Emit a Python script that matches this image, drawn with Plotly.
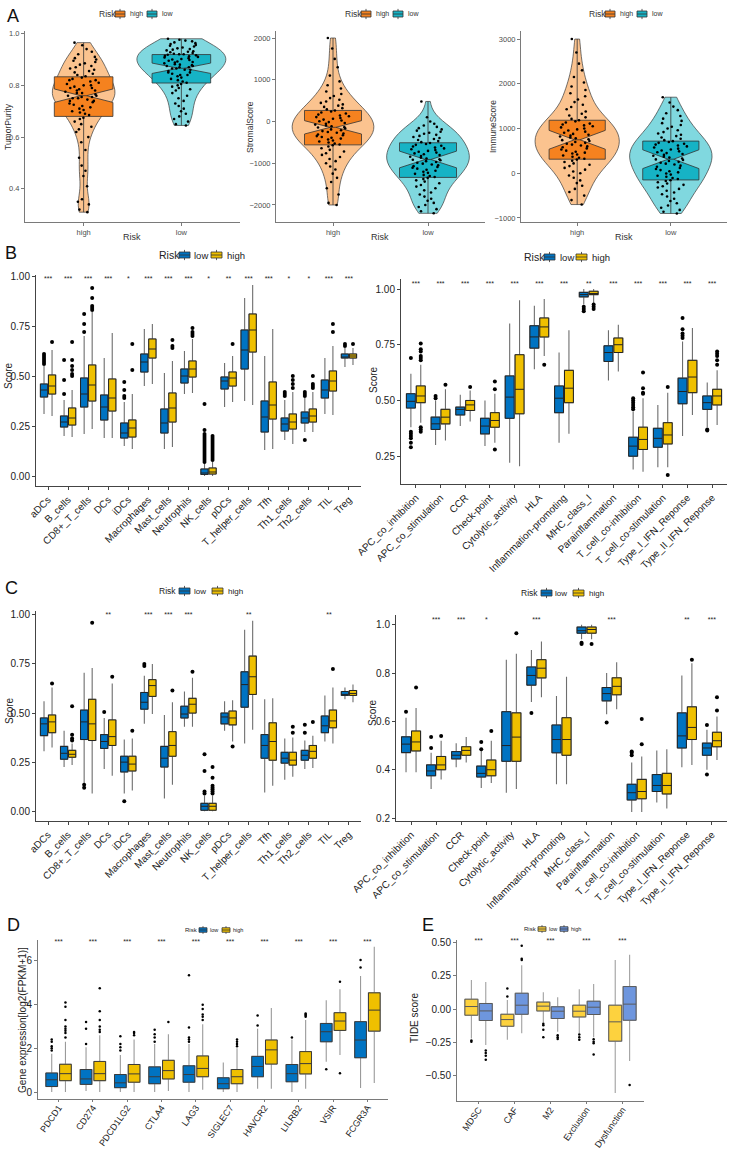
import plotly.graph_objects as go

W, H = 731, 1149
FONT = "Liberation Sans, Arial, sans-serif"

tp_high = [0.31, 0.32, 0.34, 0.35, 0.36, 0.41, 0.45, 0.47, 0.49, 0.52, 0.55, 0.58,
           0.60, 0.62, 0.63, 0.64, 0.65, 0.66, 0.67, 0.675,
           0.685, 0.69, 0.695, 0.70, 0.705, 0.71, 0.715, 0.72, 0.725, 0.73, 0.735, 0.74,
           0.74, 0.745, 0.75, 0.75, 0.755, 0.755, 0.76, 0.76,
           0.765, 0.77, 0.77, 0.775, 0.78, 0.78, 0.785, 0.79, 0.79, 0.795, 0.80, 0.80,
           0.805, 0.81, 0.815, 0.82, 0.82, 0.825, 0.83, 0.835,
           0.84, 0.845, 0.85, 0.855, 0.86, 0.865, 0.87, 0.875, 0.88, 0.885, 0.89, 0.895,
           0.90, 0.905, 0.91, 0.92, 0.93, 0.94, 0.955, 0.965]
tp_low = [0.645, 0.65, 0.66, 0.67, 0.68, 0.69, 0.70, 0.71, 0.72, 0.73, 0.74, 0.75, 0.76,
          0.77, 0.78, 0.785, 0.79, 0.795, 0.80, 0.805,
          0.81, 0.815, 0.82, 0.825, 0.83, 0.835, 0.84, 0.84, 0.845, 0.85, 0.85, 0.855,
          0.86, 0.86, 0.865, 0.865, 0.87, 0.87, 0.875, 0.875,
          0.878, 0.88, 0.882, 0.885, 0.888, 0.89, 0.892, 0.895, 0.898, 0.90, 0.902, 0.905,
          0.908, 0.91, 0.912, 0.914, 0.916, 0.918, 0.92, 0.92,
          0.922, 0.925, 0.928, 0.93, 0.932, 0.935, 0.938, 0.94, 0.943, 0.946, 0.95, 0.953,
          0.956, 0.96, 0.963, 0.966, 0.97, 0.973, 0.976, 0.98]
stromal_high = [-2000, -1950, -1750, -1600, -1450, -1350, -1250, -1150, -1080, -1000, -950,
                -900, -850, -800, -760, -720, -680, -640, -600, -570,
                -550, -530, -505, -480, -455, -430, -410, -390, -370, -350, -330, -310,
                -290, -270, -250, -230, -210, -190, -165, -145,
                -135, -115, -95, -75, -55, -35, -15, 5, 25, 45, 65, 85, 105, 125, 145, 165,
                190, 215, 240, 265,
                290, 320, 350, 380, 410, 445, 480, 520, 560, 610, 660, 720, 790, 870, 960,
                1100, 1300, 1500, 1750, 2000]
stromal_low = [-2200, -2150, -2100, -2050, -2000, -1950, -1900, -1850, -1800, -1750, -1700,
               -1650, -1600, -1560, -1520, -1480, -1440, -1410, -1380, -1350,
               -1330, -1305, -1280, -1255, -1230, -1205, -1180, -1155, -1130, -1110, -1090,
               -1070, -1050, -1030, -1010, -990, -970, -950, -930, -915,
               -905, -885, -865, -845, -825, -805, -785, -765, -745, -725, -705, -685, -665,
               -645, -625, -600, -580, -560, -540, -515,
               -495, -470, -445, -420, -395, -370, -345, -320, -295, -270, -245, -220, -190,
               -160, -130, -95, -55, 0, 100, 480]
immune_high = [-700, -600, -500, -420, -350, -280, -220, -160, -100, -50, 0, 40, 80, 120,
               160, 190, 220, 250, 280, 305,
               325, 345, 370, 395, 420, 440, 460, 480, 505, 530, 555, 580, 600, 620, 640,
               660, 680, 700, 720, 740,
               760, 780, 800, 820, 840, 860, 880, 905, 930, 955, 980, 1000, 1025, 1050, 1070,
               1090, 1110, 1135, 1160, 1185,
               1215, 1250, 1290, 1330, 1380, 1430, 1480, 1530, 1590, 1650, 1720, 1790, 1860,
               1940, 2030, 2150, 2300, 2450, 2700, 3000]
immune_low = [-900, -860, -820, -770, -720, -670, -620, -570, -520, -470, -430, -390, -350,
              -320, -290, -260, -230, -200, -175, -155,
              -130, -105, -80, -55, -30, -5, 20, 45, 70, 95, 120, 145, 170, 195, 215, 235,
              255, 275, 295, 310,
              330, 350, 370, 390, 410, 430, 450, 470, 490, 510, 530, 550, 575, 600, 620, 640,
              660, 680, 700, 718,
              740, 770, 800, 830, 860, 890, 920, 960, 1000, 1040, 1080, 1120, 1170, 1220,
              1280, 1340, 1410, 1490, 1580, 1700]

# box stats: lower whisker, q1, median, q3, upper whisker, notch half-span
tp_high_box = [0.31, 0.68, 0.76, 0.833, 0.965, 0.026]
tp_low_box = [0.645, 0.809, 0.866, 0.919, 0.98, 0.02]
stromal_high_box = [-2000, -560, -140, 265, 2000, 160]
stromal_low_box = [-2200, -1340, -910, -510, 480, 200]
immune_high_box = [-700, 314, 748, 1185, 3000, 210]
immune_low_box = [-900, -150, 314, 719, 1700, 210]

# ---------------- panels B / C: immune cells & functions ----------------
cells = ["aDCs", "B_cells", "CD8+_T_cells", "DCs", "iDCs", "Macrophages", "Mast_cells",
         "Neutrophils", "NK_cells", "pDCs", "T_helper_cells", "Tfh", "Th1_cells",
         "Th2_cells", "TIL", "Treg"]
functions = ["APC_co_inhibition", "APC_co_stimulation", "CCR", "Check-point",
             "Cytolytic_activity", "HLA", "Inflammation-promoting", "MHC_class_I",
             "Parainflammation", "T_cell_co-inhibition", "T_cell_co-stimulation",
             "Type_I_IFN_Reponse", "Type_II_IFN_Reponse"]

# rows: lower whisker, q1, median, q3, upper whisker
bl_low = [(.31, .395, .43, .46, .55), (.20, .245, .27, .30, .38), (.21, .345, .41, .49, .70),
          (.19, .28, .345, .405, .59), (.15, .19, .215, .265, .37), (.45, .52, .57, .61, .735),
          (.135, .215, .265, .335, .515), (.41, .465, .50, .535, .625), (0, .008, .015, .035, .065),
          (.345, .435, .475, .495, .565), (.375, .535, .63, .73, .89), (.13, .22, .295, .375, .60),
          (.18, .225, .26, .29, .38), (.22, .265, .29, .32, .39), (.31, .39, .43, .48, .59),
          (.545, .59, .595, .61, .64)]
bl_low_out = [[.56, .57, .58, .59, .60, .61], [.41, .48, .58], [.72, .76, .81], [],
              [.39, .40, .43, .47], [], [], [],
              [.07, .08, .09, .10, .11, .12, .13, .14, .15, .16, .17, .18, .19, .20, .21, .23, .36],
              [], [], [], [.40, .41, .42], [.18, .40, .41, .42], [], [.65, .66]]
bl_high = [(.30, .41, .45, .505, .63), (.195, .255, .29, .34, .43), (.235, .375, .455, .555, .82),
           (.19, .325, .39, .485, .715), (.135, .195, .24, .28, .41), (.46, .59, .635, .685, .76),
           (.145, .27, .34, .415, .575), (.415, .495, .535, .575, .685), (0, .01, .02, .04, .07),
           (.37, .45, .49, .52, .60), (.355, .62, .73, .81, .955), (.135, .285, .355, .47, .735),
           (.16, .235, .27, .31, .42), (.22, .27, .30, .335, .42), (.305, .425, .475, .525, .65),
           (.555, .59, .60, .61, .64)]
bl_high_out = [[.67], [.50, .51, .53, .55, .58, .67], [.83, .84, .85, .89, .94], [], [.53, .66],
               [], [.64, .65, .68], [.70, .71, .72, .74],
               [.08, .09, .10, .11, .12, .13, .14, .15, .16, .17, .18, .19, .20],
               [.66], [], [], [.44, .46, .48, .50], [.44, .45, .46, .50], [.72, .76], [.66]]
bl_sig = ["***", "***", "***", "***", "*", "***", "***", "***", "*", "**", "***", "***",
          "*", "*", "***", "***"]

br_low = [(.38, .466, .496, .53, .62), (.30, .37, .395, .425, .50), (.385, .435, .46, .47, .525),
          (.295, .35, .385, .42, .50), (.22, .42, .515, .61, .845), (.64, .735, .785, .835, .925),
          (.31, .445, .51, .565, .715), (.93, .965, .975, .985, 1.0), (.59, .675, .715, .745, .815),
          (.19, .25, .295, .335, .45), (.20, .29, .33, .375, .48), (.34, .485, .54, .60, .765),
          (.38, .46, .49, .52, .58)]
br_low_out = [[.29, .31, .33, .34, .35, .36, .69], [.51, .52], [], [], [], [], [],
              [.90, .91, .92], [], [.46, .47, .48, .49, .50, .51], [],
              [.78, .79, .80, .82, .87], [.365, .37]]
br_high = [(.40, .49, .52, .565, .66), (.32, .395, .425, .46, .55), (.405, .455, .48, .50, .545),
           (.31, .38, .41, .445, .53), (.205, .44, .55, .705, .95), (.70, .785, .83, .87, .955),
           (.35, .49, .555, .635, .815), (.935, .975, .98, .99, 1.0), (.63, .715, .75, .78, .84),
           (.18, .28, .325, .38, .51), (.20, .305, .345, .40, .535), (.435, .535, .605, .68, .825),
           (.39, .48, .52, .55, .635)]
br_high_out = [[.36, .37, .38, .68, .69, .70, .72, .73, .755], [.57], [.56], [.28, .55, .585],
               [], [.66], [], [.91, .92, .93], [], [.53, .535, .555, .625], [.165, .56], [],
               [.66, .68, .70, .71, .72]]
br_sig = ["***", "***", "***", "***", "***", "***", "***", "**", "***", "***", "***", "***", "***"]

cl_low = [(.305, .385, .445, .475, .56), (.225, .265, .295, .33, .41), (.14, .365, .455, .515, .705),
          (.215, .32, .355, .39, .475), (.09, .20, .25, .28, .365), (.445, .52, .555, .605, .69),
          (.065, .225, .27, .33, .49), (.43, .475, .495, .535, .61), (0, .005, .025, .04, .08),
          (.41, .445, .48, .50, .56), (.345, .53, .645, .71, .925), (.095, .27, .335, .39, .57),
          (.16, .245, .27, .30, .37), (.215, .26, .285, .31, .36), (.355, .40, .435, .485, .59),
          (.57, .59, .595, .61, .63)]
cl_low_out = [[], [], [.12, .135], [.505], [.05], [.74, .75], [], [], [.09, .10, .205, .29],
              [], [], [], [], [.40, .44], [], []]
cl_high = [(.325, .40, .455, .49, .63), (.235, .275, .29, .31, .345), (.09, .36, .445, .57, .73),
           (.18, .335, .38, .465, .65), (.105, .205, .24, .28, .37), (.495, .585, .64, .67, .75),
           (.135, .28, .335, .405, .555), (.43, .50, .545, .575, .68), (0, .005, .025, .04, .08),
           (.355, .44, .475, .51, .565), (.415, .595, .685, .79, .97), (.13, .26, .355, .45, .575),
           (.175, .235, .26, .30, .375), (.22, .27, .305, .335, .385), (.345, .425, .46, .515, .63),
           (.555, .59, .60, .615, .645)]
cl_high_out = [[.65], [.36, .37, .39, .535], [.96], [.685], [.41], [], [.615], [.71],
               [.09, .10, .11, .12, .13, .17, .225], [.33], [], [], [.40, .43], [.455], [.725], []]
cl_sig = ["", "", "", "**", "", "***", "***", "***", "", "", "**", "", "", "", "**", ""]

cr_low = [(.39, .471, .506, .536, .615), (.32, .375, .395, .42, .47), (.41, .445, .46, .475, .51),
          (.325, .37, .385, .415, .48), (.305, .435, .50, .64, .855), (.68, .75, .79, .825, .895),
          (.34, .47, .525, .585, .705), (.94, .965, .975, .99, 1.0), (.63, .685, .715, .74, .80),
          (.225, .275, .305, .34, .43), (.265, .31, .335, .38, .48), (.41, .49, .54, .635, .79),
          (.40, .46, .49, .51, .565)]
cr_low_out = [[.64], [.49, .535], [], [.485, .515], [], [.635], [], [.92, .925], [.595],
              [.46, .47, .475], [], [], [.38, .585]]
cr_high = [(.39, .478, .515, .56, .655), (.36, .40, .42, .455, .52), (.43, .46, .48, .495, .535),
           (.345, .375, .40, .44, .52), (.32, .435, .535, .635, .88), (.70, .78, .82, .855, .93),
           (.34, .46, .525, .615, .785), (.94, .965, .98, .99, 1.0), (.65, .71, .745, .78, .845),
           (.225, .28, .31, .36, .455), (.24, .30, .335, .385, .485), (.42, .525, .575, .66, .84),
           (.44, .495, .52, .555, .62)]
cr_high_out = [[.74], [.54], [], [.56], [.965], [], [], [.92], [], [.505, .61], [], [.855],
               [.645, .70]]
cr_sig = ["", "***", "***", "*", "", "***", "", "", "***", "", "", "**", "***"]

# ---------------- panel D: checkpoint genes ----------------
genes = ["PDCD1", "CD274", "PDCD1LG2", "CTLA4", "LAG3", "SIGLEC7", "HAVCR2", "LILRB2",
         "VSIR", "FCGR3A"]
d_low = [(0, .25, .56, .87, 1.75), (.05, .35, .6, 1.03, 2.05), (0, .2, .42, .8, 1.7),
         (0, .38, .7, 1.15, 2.2), (0, .45, .8, 1.2, 2.2), (0, .15, .38, .65, 1.35),
         (.15, .7, 1.17, 1.63, 2.9), (0, .47, .84, 1.26, 2.4), (1.39, 2.3, 2.76, 3.14, 4.2),
         (.18, 1.57, 2.38, 3.22, 5.31)]
d_low_out = [[1.9, 2.0, 2.1, 2.3, 2.4], [2.2, 2.9, 3.2], [1.9, 2.05, 2.2, 2.55],
             [2.3, 2.5, 2.65, 2.85], [2.3, 2.4, 2.5, 2.95, 5.35], [], [3.05, 3.5], [2.5],
             [1.04], [5.7, 6.04]]
d_high = [(0, .52, .84, 1.27, 2.3), (0, .52, .84, 1.4, 2.6), (0, .45, .83, 1.26, 2.4),
          (.05, .6, .98, 1.45, 2.65), (.1, .7, 1.08, 1.65, 3.1), (0, .38, .7, 1.03, 2.0),
          (.15, 1.28, 1.93, 2.38, 3.85), (.15, .83, 1.3, 1.85, 3.3), (1.69, 2.82, 3.25, 3.63, 4.71),
          (.41, 2.79, 3.75, 4.54, 6.65)]
d_high_out = [[2.5, 2.7, 2.8, 2.9, 3.0, 3.3, 3.9, 4.1], [2.75, 2.85, 3.0, 3.3, 3.7, 4.75],
              [2.6, 2.7, 2.75], [3.2], [3.3, 3.45, 3.55, 3.8, 4.0], [2.1, 2.2, 2.3, 2.4], [],
              [3.45, 3.5, 3.55, 3.6], [.86, 5.05], []]
d_sig = ["***"] * 10

# ---------------- panel E: TIDE ----------------
tide = ["MDSC", "CAF", "M2", "Exclusion", "Dysfunction"]
e_low = [(-.22, -.045, .02, .075, .22), (-.23, -.128, -.078, -.038, .07),
         (-.10, -.013, .023, .053, .128), (-.18, -.058, -.015, .03, .15),
         (-.63, -.24, -.095, .03, .37)]
e_low_out = [[-.235, -.245], [.095, .155], [-.11, -.12, -.155, -.21], [-.19, -.21, -.23], []]
e_high = [(-.27, -.085, -.013, .043, .205), (-.18, -.038, .03, .12, .33),
          (-.17, -.07, -.015, .018, .09), (-.21, -.04, .015, .06, .19),
          (-.39, -.083, .038, .17, .41)]
e_high_out = [[-.31, -.33, -.35, -.38], [.37, .38, .477], [-.196, -.21, -.224],
              [-.226, -.244, -.256, -.34], [-.57]]
e_sig = ["***"] * 5

HIGH_BOX, HIGH_VIO = "#F5821F", "#FBC38F"
LOW_BOX, LOW_VIO = "#16B3C5", "#80D8DF"
JCO_BLUE, JCO_YEL = "#0073C2", "#EFC000"
E_YEL, E_BLUE = "#FDD23E", "#6E96DE"

fig = go.Figure()


def ids(n):
    s = "" if n == 1 else str(n)
    return "x" + s, "y" + s, "xaxis" + s, "yaxis" + s


def violin_panel(n, groups, bw, sig_y):
    xa, ya, _, _ = ids(n)
    for name, samples, stats, vw, vcol, bcol in groups:
        fig.add_trace(go.Violin(x=[name] * len(samples), y=samples, xaxis=xa, yaxis=ya,
                                width=vw, bandwidth=bw, spanmode="hard", scalemode="width",
                                points=False, fillcolor=vcol, opacity=1,
                                line=dict(color="#3a3a3a", width=0.7), hoverinfo="skip"))
    for name, samples, stats, vw, vcol, bcol in groups:
        lo, q1, med, q3, hi, notch = stats
        fig.add_trace(go.Box(x=[name], q1=[q1], median=[med], q3=[q3], lowerfence=[lo],
                             upperfence=[hi], notchspan=[notch], notched=True, notchwidth=0.45,
                             width=0.6, fillcolor=bcol, line=dict(color="#333333", width=0.8),
                             whiskerwidth=0, boxpoints=False, name=name, xaxis=xa, yaxis=ya))
    for name, samples, stats, vw, vcol, bcol in groups:
        fig.add_trace(go.Box(x=[name] * len(samples), y=samples, boxpoints="all", jitter=1,
                             pointpos=0, width=0.38, fillcolor="rgba(0,0,0,0)",
                             line=dict(width=0, color="rgba(0,0,0,0)"), whiskerwidth=0,
                             marker=dict(color="black", size=2.6),
                             hoverinfo="skip", xaxis=xa, yaxis=ya))
    fig.add_trace(go.Scatter(x=[0.5], y=[sig_y], mode="text", text=["***"],
                             textfont=dict(size=7, color="#333333"),
                             cliponaxis=False, hoverinfo="skip", xaxis=xa, yaxis=ya))


def group_panel(n, cats, groups, box_w, pt_size, whisk_col, sig, sig_y, sig_size, edge_col=None):
    xa, ya, _, _ = ids(n)
    for name, stats, outs, color, off in groups:
        xs = [i + off for i in range(len(cats))]
        lo, q1, med, q3, hi = zip(*stats)
        # whiskers (grey) first, then the box itself on top with its own outline
        fig.add_trace(go.Box(x=xs, q1=list(q1), median=list(med), q3=list(q3),
                             lowerfence=list(lo), upperfence=list(hi), width=box_w,
                             fillcolor=color, line=dict(color=whisk_col, width=1.1),
                             whiskerwidth=0, boxpoints=False, hoverinfo="skip",
                             xaxis=xa, yaxis=ya))
        fig.add_trace(go.Box(x=xs, q1=list(q1), median=list(med), q3=list(q3),
                             lowerfence=list(q1), upperfence=list(q3), width=box_w,
                             fillcolor=color, line=dict(color=edge_col or "#222222", width=1),
                             whiskerwidth=0, boxpoints=False, name=name,
                             xaxis=xa, yaxis=ya))
    for name, stats, outs, color, off in groups:
        ox = [i + off for i, vals in enumerate(outs) for v in vals]
        oy = [v for vals in outs for v in vals]
        fig.add_trace(go.Scatter(x=ox, y=oy, mode="markers",
                                 marker=dict(color="black", size=pt_size, line=dict(width=0)),
                                 hoverinfo="skip", xaxis=xa, yaxis=ya))
    fig.add_trace(go.Scatter(x=list(range(len(cats))), y=[sig_y] * len(cats), mode="text",
                             text=sig, textfont=dict(size=sig_size, color="#222222"),
                             cliponaxis=False, hoverinfo="skip", xaxis=xa, yaxis=ya))


violin_panel(1, [("high", tp_high, tp_high_box, 0.64, HIGH_VIO, HIGH_BOX),
                 ("low", tp_low, tp_low_box, 0.91, LOW_VIO, LOW_BOX)], 0.04, 1.0)
violin_panel(2, [("high", stromal_high, stromal_high_box, 0.86, HIGH_VIO, HIGH_BOX),
                 ("low", stromal_low, stromal_low_box, 0.87, LOW_VIO, LOW_BOX)], 230, 2070)
violin_panel(3, [("high", immune_high, immune_high_box, 0.9, HIGH_VIO, HIGH_BOX),
                 ("low", immune_low, immune_low_box, 0.88, LOW_VIO, LOW_BOX)], 240, 3090)

group_panel(4, cells, [("low", bl_low, bl_low_out, JCO_BLUE, -0.2),
                       ("high", bl_high, bl_high_out, JCO_YEL, 0.2)],
            0.36, 4, "#6e6e6e", bl_sig, 0.982, 7)
group_panel(5, functions, [("low", br_low, br_low_out, JCO_BLUE, -0.2),
                           ("high", br_high, br_high_out, JCO_YEL, 0.2)],
            0.36, 4, "#6e6e6e", br_sig, 1.02, 7)
group_panel(6, cells, [("low", cl_low, cl_low_out, JCO_BLUE, -0.2),
                       ("high", cl_high, cl_high_out, JCO_YEL, 0.2)],
            0.36, 4, "#6e6e6e", cl_sig, 1.0, 7)
group_panel(7, functions, [("low", cr_low, cr_low_out, JCO_BLUE, -0.2),
                           ("high", cr_high, cr_high_out, JCO_YEL, 0.2)],
            0.36, 4, "#6e6e6e", cr_sig, 1.02, 7)
group_panel(8, genes, [("low", d_low, d_low_out, JCO_BLUE, -0.2),
                       ("high", d_high, d_high_out, JCO_YEL, 0.2)],
            0.34, 2.5, "#9a9a9a", d_sig, 6.86, 7, "#3a3a3a")
group_panel(9, tide, [("low", e_low, e_low_out, E_YEL, -0.2),
                      ("high", e_high, e_high_out, E_BLUE, 0.2)],
            0.36, 2.5, "#a0a0a0", e_sig, 0.51, 7, "#5a5a5a")

# ---------------- layout ----------------
# panel rectangles in pixels: left, right, top, bottom
rects = {1: (25, 240, 31, 222), 2: (276, 485, 31, 222), 3: (521, 727, 31, 222),
         4: (36, 361, 275, 486), 5: (401, 727, 279, 484),
         6: (36, 361, 611, 821), 7: (396, 727, 615, 821),
         8: (38, 388, 940, 1099), 9: (457, 644, 940, 1101)}
yranges = {1: [0.272, 1.01], 2: [-2408, 2168], 3: [-1090, 3180],
           4: [-0.05, 1.005], 5: [0.125, 1.045], 6: [-0.05, 1.02], 7: [0.188, 1.04],
           8: [-0.32, 6.96], 9: [-0.69, 0.52]}
yticks = {1: ([0.4, 0.6, 0.8, 1.0], ".1f"), 2: ([-2000, -1000, 0, 1000, 2000], "d"),
          3: ([-1000, 0, 1000, 2000, 3000], "d"),
          4: ([0, 0.25, 0.5, 0.75, 1.0], ".2f"), 5: ([0.25, 0.5, 0.75, 1.0], ".2f"),
          6: ([0, 0.25, 0.5, 0.75, 1.0], ".2f"), 7: ([0.2, 0.4, 0.6, 0.8, 1.0], ".1f"),
          8: ([0, 2, 4, 6], "d"), 9: ([-0.5, -0.25, 0, 0.25, 0.5], ".2f")}
xcats = {4: cells, 5: functions, 6: cells, 7: functions, 8: genes, 9: tide}

lay = dict(template="none", width=W, height=H, margin=dict(l=0, r=0, t=0, b=0),
           plot_bgcolor="white", paper_bgcolor="white", showlegend=False,
           font=dict(family=FONT, color="#222222"), boxmode="overlay", violinmode="overlay")

for n, (l, r, t, b) in rects.items():
    xa, ya, xk, yk = ids(n)
    small = n <= 3
    tcol = "#4d4d4d" if small else "#222222"
    lcol = "#7a7a7a" if (small or n >= 8) else "#444444"
    tsize = 7.5 if small else 10
    xax = dict(domain=[l / W, r / W], anchor=ya, showline=True, linecolor=lcol, linewidth=1,
               ticks="outside", ticklen=3, tickcolor=lcol, showgrid=False, zeroline=False,
               automargin=False, tickfont=dict(size=tsize, color=tcol))
    if small:
        xax.update(type="category", range=[-0.6, 1.6])
    else:
        cats = xcats[n]
        xax.update(range=[-0.6, len(cats) - 0.4], tickvals=list(range(len(cats))),
                   ticktext=cats, tickangle=-45 if n <= 7 else -55)
        if n >= 8:
            xax.update(tickfont=dict(size=9, color=tcol), ticklen=2, ticklabelstandoff=-3)
    tv, fmt = yticks[n]
    yax = dict(domain=[1 - b / H, 1 - t / H], anchor=xa, range=yranges[n], tickvals=tv,
               tickformat=fmt, showline=True, linecolor=lcol, linewidth=1, ticks="outside",
               ticklen=3, tickcolor=lcol, showgrid=False, zeroline=False, automargin=False,
               tickfont=dict(size=tsize, color=tcol))
    lay[xk] = xax
    lay[yk] = yax

ann = []
shapes = []


def label(text, x, y, size, angle=0, color="#222222", xanchor="center"):
    ann.append(dict(text=text, x=x / W, y=1 - y / H, xref="paper", yref="paper",
                    showarrow=False, textangle=angle, font=dict(size=size, color=color),
                    xanchor=xanchor, yanchor="middle"))


def key(x0, yc, kw, kh, fill):
    # ggplot-style boxplot key: box, median line, short whisker stubs
    px = lambda v: v / W
    py = lambda v: 1 - v / H
    xm = x0 + kw / 2
    st = kh * 0.35
    line = dict(color="#333333", width=0.8)
    shapes.append(dict(type="line", xref="paper", yref="paper", x0=px(xm), x1=px(xm),
                       y0=py(yc - kh / 2 - st), y1=py(yc + kh / 2 + st), line=line))
    shapes.append(dict(type="rect", xref="paper", yref="paper", x0=px(x0), x1=px(x0 + kw),
                       y0=py(yc - kh / 2), y1=py(yc + kh / 2), fillcolor=fill, line=line))
    shapes.append(dict(type="line", xref="paper", yref="paper", x0=px(x0), x1=px(x0 + kw),
                       y0=py(yc), y1=py(yc), line=line))


def legend(left, yc, tsize, lsize, offs, kw, kh, items, tcol="#222222"):
    label("Risk", left, yc, tsize, color=tcol, xanchor="left")
    for (text, fill), (ko, lo) in zip(items, offs):
        key(left + ko, yc, kw, kh, fill)
        label(text, left + lo, yc, lsize, color=tcol, xanchor="left")


a_items = [("high", HIGH_BOX), ("low", LOW_BOX)]
bc_items = [("low", JCO_BLUE), ("high", JCO_YEL)]
for left in (97, 343, 587):
    legend(left, 14, 8.5, 7, [(18, 31), (50, 63)], 10, 6, a_items, "#333333")
legend(157, 255, 10.5, 9.5, [(22, 35), (54, 68)], 11, 6, bc_items)
legend(522, 257, 10.5, 9.5, [(22, 36), (54, 68)], 11, 6, bc_items)
legend(157, 591, 8.5, 8, [(22, 35), (55, 69)], 11, 6, bc_items)
legend(519, 593, 8.5, 8, [(22, 34), (54, 68)], 11, 6, bc_items)
legend(183, 930, 6, 5.5, [(16, 25), (39, 48)], 8, 4.5, bc_items)
legend(522, 929, 6, 5.5, [(16, 25), (38, 47)], 8, 4.5, [("low", E_YEL), ("high", E_BLUE)])

for txt, x, y in [("A", 13, 16), ("B", 11, 253), ("C", 11, 588), ("D", 13, 925), ("E", 428, 925)]:
    label(txt, x, y, 18, color="#111111")
label("TumorPurity", 8, 127, 8.5, -90, "#333333")
label("StromalScore", 250, 127, 8.5, -90, "#333333")
label("ImmuneScore", 493, 127, 8.5, -90, "#333333")
for cx in (132, 380, 624):
    label("Risk", cx, 237, 9, 0, "#333333")
label("Score", 9, 376, 10, -90)
label("Score", 373, 380, 10, -90)
label("Score", 9, 711, 10, -90)
label("Score", 372, 713, 10, -90)
label("Gene expression[log2(FPKM+1)]", 22, 1020, 10, -90)
label("TIDE score", 415, 1018, 10, -90)
lay["annotations"] = ann
lay["shapes"] = shapes

fig.update_layout(**lay)
# the page body has a default 8px margin; drop it so the figure sits at the origin
fig.write_html("out.html", config={"displayModeBar": False},
               post_script="document.body.style.margin = '0';")
